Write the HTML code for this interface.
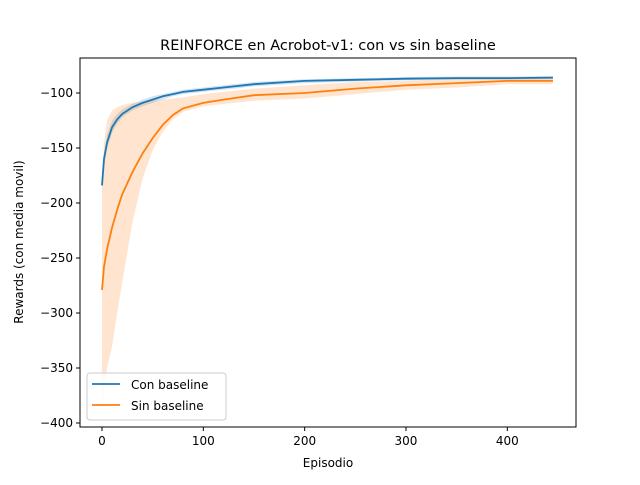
<!DOCTYPE html>
<html><head><meta charset="utf-8"><style>
body{margin:0;background:#fff;font-family:"Liberation Sans","DejaVu Sans",sans-serif}
svg text{font-family:"DejaVu Sans","Liberation Sans",sans-serif;fill:#000}
</style></head><body>
<svg id="chart" width="640" height="480">
<rect width="640" height="480" fill="#fff"/>
<text x="328" y="50" font-size="14.5" text-anchor="middle">REINFORCE en Acrobot-v1: con vs sin baseline</text>
<g id="plot"></g>
<rect x="80" y="58" width="496" height="369" fill="none" stroke="#000" stroke-width="1"/>
<text x="328" y="467" font-size="12" text-anchor="middle">Episodio</text>
<text transform="translate(23,242) rotate(-90)" font-size="12" text-anchor="middle">Rewards (con media movil)</text>
<g>
<rect x="87" y="373" width="139" height="47" rx="3" fill="#fff" fill-opacity="0.8" stroke="#ccc"/>
<line x1="92" y1="384" x2="120" y2="384" stroke="#1f77b4" stroke-width="1.8"/>
<text x="131" y="389" font-size="12">Con baseline</text>
<line x1="92" y1="405" x2="120" y2="405" stroke="#ff7f0e" stroke-width="1.8"/>
<text x="131" y="410" font-size="12">Sin baseline</text>
</g>
</svg>
<script>
const xs     = [0,2,5,10,15,20,30,40,50,60,70,80,100,120,150,200,250,300,350,400,445];
const conMean= [-184,-160,-145,-131,-124,-119,-113,-109,-106,-103,-101,-99,-97,-95,-92,-89,-88,-87,-86.5,-86.5,-86];
const conLo  = [-190,-166,-151,-136,-128,-122,-116,-112,-109,-106,-103,-101,-99,-97,-94,-91,-89.5,-88.5,-88,-88,-87.5];
const conHi  = [-178,-154,-138,-125,-119,-115,-110,-106,-103,-101,-99,-97,-95,-93,-90,-87.5,-86.5,-85.5,-85,-85,-84.5];
const sinMean= [-279,-258,-242,-222,-206,-192,-172,-155,-141,-129,-120,-114,-109,-106,-102,-100,-96,-93,-91,-89,-89];
const sinLo  = [-385,-370,-350,-330,-300,-272,-218,-178,-152,-135,-124,-117,-112,-110,-107,-105,-101,-97,-95,-92,-92];
const sinHi  = [-185,-145,-125,-116,-113,-111,-109,-108,-107,-106,-105,-104,-101,-99,-96,-93,-90,-89,-87,-86,-86];
const xTicks = [0,100,200,300,400];
const yTicks = [-100,-150,-200,-250,-300,-350,-400];

const NS="http://www.w3.org/2000/svg";
const X=v=>102+v*1.0133;
const Y=v=>93+(-100-v)*1.1;
const g=document.getElementById('plot');
function mk(t,a){const e=document.createElementNS(NS,t);for(const k in a)e.setAttribute(k,a[k]);g.appendChild(e);return e;}
function band(lo,hi,col,name){
  let d='M'+xs.map((x,i)=>X(x)+','+Y(hi[i])).join('L');
  for(let i=xs.length-1;i>=0;i--)d+='L'+X(xs[i])+','+Y(lo[i]);
  const e=mk('path',{d:d+'Z',fill:col,'fill-opacity':0.2,stroke:'none'});
  
  
}
function line(ys,col,name){
  const e=mk('polyline',{points:xs.map((x,i)=>X(x)+','+Y(ys[i])).join(' '),fill:'none',stroke:col,'stroke-width':1.8});
  
  
}
band(conLo,conHi,'#1f77b4','con-baseline-band');
band(sinLo,sinHi,'#ff7f0e','sin-baseline-band');
line(conMean,'#1f77b4','con-baseline-line');
line(sinMean,'#ff7f0e','sin-baseline-line');
xTicks.forEach(t=>{
  mk('line',{x1:X(t),x2:X(t),y1:427,y2:431,stroke:'#000'});
  const e=mk('text',{x:X(t),y:445,'font-size':12,'text-anchor':'middle'});e.textContent=t;
  
  
});
yTicks.forEach(t=>{
  mk('line',{x1:76,x2:80,y1:Y(t),y2:Y(t),stroke:'#000'});
  const e=mk('text',{x:73,y:Y(t)+4,'font-size':12,'text-anchor':'end'});e.textContent='\u2212'+Math.abs(t);
  
  
});
</script>
</body></html>
